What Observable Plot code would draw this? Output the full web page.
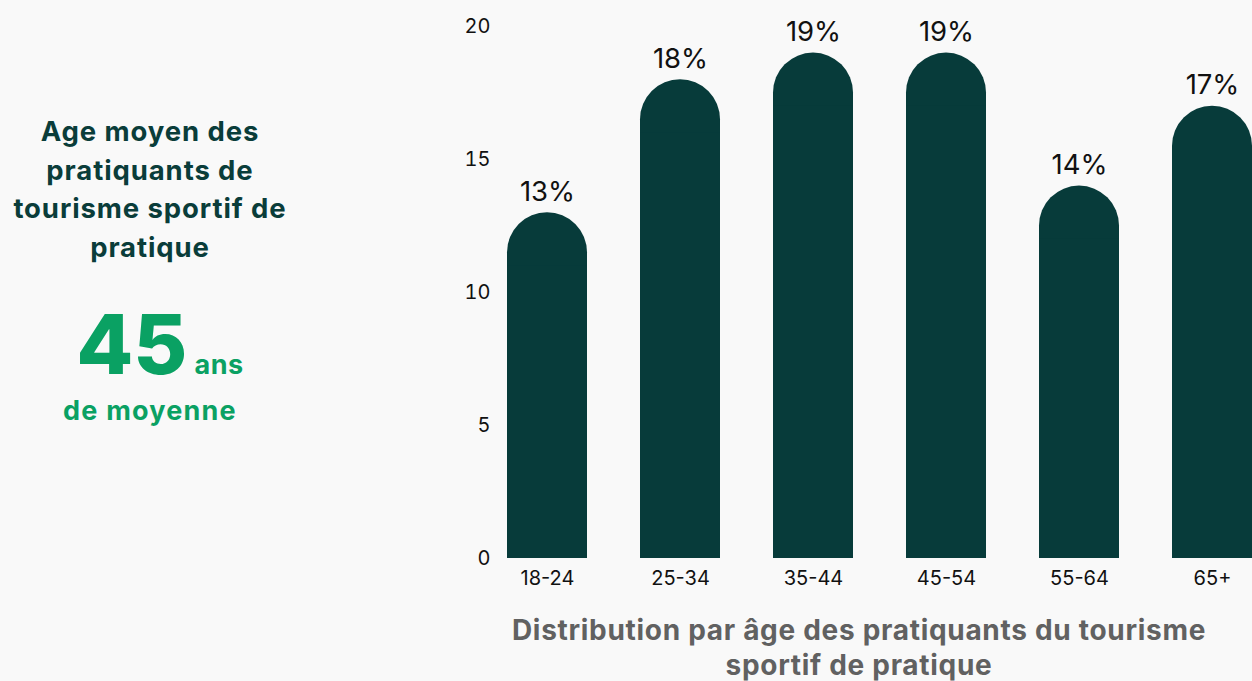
<!DOCTYPE html>
<html><head><meta charset="utf-8">
<script src="https://cdn.jsdelivr.net/npm/d3@7"></script>
<script src="https://cdn.jsdelivr.net/npm/@observablehq/plot@0.6"></script>
<style>
html,body{margin:0;padding:0;background:#f9f9f9;width:1252px;height:681px;overflow:hidden;font-family:Inter,"Noto Sans",sans-serif;}
#left{position:absolute;left:0;top:112px;width:300px;text-align:center;}
#left .t{font-weight:700;font-size:27.5px;line-height:38.5px;color:#0a3d3a;letter-spacing:0.9px;}
#left .big{position:absolute;left:0;width:320px;top:190px;color:#0aa163;font-weight:800;white-space:nowrap;text-align:center;}
#left .big .n{font-size:83px;line-height:84px;letter-spacing:0px;}
#left .big .u{font-size:27px;font-weight:700;margin-left:7px;letter-spacing:0.6px;}
#left .m{position:absolute;left:0;width:300px;top:282px;color:#0aa163;font-weight:700;font-size:27px;letter-spacing:1.2px;}
#chart{position:absolute;left:440px;top:0;}
#caption{position:absolute;left:459px;width:800px;top:613px;text-align:center;font-family:Inter,sans-serif;font-weight:700;font-size:28px;line-height:35px;color:#616161;letter-spacing:0.7px;}
</style></head>
<body>
<div id="left">
  <div class="t">Age moyen des<br>pratiquants de<br>tourisme sportif de<br>pratique</div>
  <div class="big"><span class="n">45</span><span class="u">ans</span></div>
  <div class="m">de moyenne</div>
</div>
<div id="chart"></div>
<div id="caption">Distribution par âge des pratiquants du tourisme<br>sportif de pratique</div>
<script>
const ageGroups = ["18-24","25-34","35-44","45-54","55-64","65+"];
const shares = [13,18,19,19,14,17];
const yTicks = [0,5,10,15,20];

const data = ageGroups.map((a,i)=>({age:a, value:shares[i]}));
const barColor = "#073b3a";

const chart = Plot.plot({
  width: 812,
  height: 600,
  marginLeft: 67,
  marginRight: 0,
  marginTop: 26,
  marginBottom: 42,
  style: {background:"#f9f9f9", fontFamily:"Inter, sans-serif", color:"#111"},
  x: {domain: ageGroups, paddingInner: 0.4, paddingOuter: 0},
  y: {domain: [0,20]},
  marks: [
    Plot.barY(data, {x:"age", y:"value", fill:barColor, rx:40}),
    Plot.barY(data, {x:"age", y1:0, y2:d=>d.value-2, fill:barColor}),
    Plot.text(data, {x:"age", y:"value", text:d=>d.value+"%", dy:-21, fontSize:27.5, fill:"#111"}),
    Plot.axisX({label:null, tickSize:0, tickPadding:12, fontSize:20, fill:"#111", style:{letterSpacing:"0.6px"}}),
    Plot.axisY({ticks:yTicks, label:null, tickSize:0, tickPadding:17, fontSize:20, fill:"#111"})
  ]
});
document.getElementById("chart").appendChild(chart);
</script>
</body></html>
